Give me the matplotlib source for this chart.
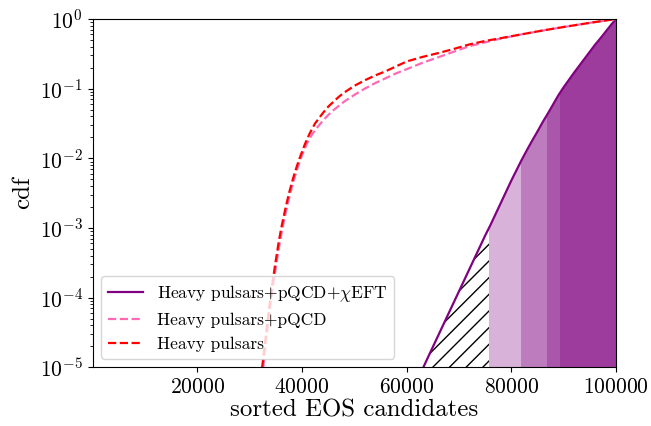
import matplotlib
matplotlib.use("Agg")
import matplotlib.pyplot as plt
from matplotlib.patches import Rectangle
import numpy as np

plt.rcParams['font.family'] = ['cmr10', 'DejaVu Serif']
plt.rcParams['mathtext.fontset'] = 'cm'
plt.rcParams['axes.formatter.use_mathtext'] = True

# Heavy pulsars + pQCD + chiEFT (purple): x, log10(cdf)
chi_x = [63200, 64000, 65000, 66000, 67000, 68000, 69000, 70000, 71000, 72000,
         73000, 74000, 75000, 76000, 77000, 78000, 79000, 80000, 81000, 82000,
         83000, 84000, 85000, 86000, 87000, 88000, 89000, 90000, 91000, 92000,
         93000, 94000, 95000, 96000, 97000, 98000, 99000, 100000]
chi_log = [-5.00, -4.87, -4.71, -4.55, -4.39, -4.23, -4.07, -3.91, -3.75, -3.59,
           -3.43, -3.27, -3.11, -2.96, -2.80, -2.64, -2.48, -2.32, -2.17, -2.02,
           -1.88, -1.745, -1.615, -1.48, -1.355, -1.225, -1.095, -0.98, -0.875,
           -0.77, -0.67, -0.57, -0.47, -0.37, -0.28, -0.185, -0.09, 0.0]

# Heavy pulsars + pQCD (pink)
pqcd_x = [32600, 33200, 33700, 34200, 34700, 35200, 35700, 36200, 36700, 37200,
          37700, 38200, 38700, 39200, 39700, 40200, 40700, 41200, 42000, 43000,
          44000, 45000, 46000, 47000, 48000, 49000, 50000, 52000, 54000, 56000,
          58000, 60000, 63000, 66000, 69000, 72000, 75000, 78000, 82000, 86000,
          90000, 95000, 100000]
pqcd_log = [-5.00, -4.60, -4.28, -3.99, -3.72, -3.47, -3.24, -3.03, -2.85, -2.68,
            -2.52, -2.38, -2.25, -2.13, -2.02, -1.92, -1.83, -1.75, -1.65, -1.55,
            -1.46, -1.38, -1.31, -1.25, -1.19, -1.14, -1.09, -1.00, -0.92, -0.85,
            -0.78, -0.72, -0.63, -0.55, -0.47, -0.39, -0.335, -0.28, -0.22,
            -0.165, -0.115, -0.055, 0.0]

# Heavy pulsars (red)
hp_x = [32400, 33000, 33500, 34000, 34500, 35000, 35500, 36000, 36500, 37000,
        37500, 38000, 38500, 39000, 39500, 40000, 40500, 41000, 41500, 42000,
        42500, 43000, 44000, 45000, 46000, 47000, 48000, 49000, 50000, 52000,
        54000, 56000, 58000, 60000, 63000, 66000, 69000, 72000, 75000, 78000,
        82000, 86000, 90000, 95000, 100000]
hp_log = [-5.00, -4.62, -4.30, -4.00, -3.72, -3.47, -3.23, -3.02, -2.84, -2.67,
          -2.51, -2.37, -2.24, -2.12, -2.01, -1.91, -1.81, -1.72, -1.64, -1.57,
          -1.50, -1.45, -1.35, -1.26, -1.19, -1.12, -1.06, -1.01, -0.96, -0.88,
          -0.81, -0.75, -0.68, -0.61, -0.545, -0.49, -0.43, -0.365, -0.315,
          -0.275, -0.22, -0.165, -0.115, -0.055, 0.0]

# shading thresholds (sorted EOS index)
hatch_start = 63200
shade_starts = [75800, 81800, 86850, 89300]
x_max = 100000
y_min = 1e-5

chi_cdf = 10.0 ** np.array(chi_log)
pqcd_cdf = 10.0 ** np.array(pqcd_log)
hp_cdf = 10.0 ** np.array(hp_log)

fig = plt.figure(figsize=(6.51, 4.26), dpi=100)
ax = fig.add_axes([0.1422, 0.1378, 0.8040, 0.8176])

# stacked shaded bands
for s in shade_starts:
    poly = ax.fill_between(chi_x, y_min, chi_cdf, color='purple', alpha=0.3,
                           linewidth=0)
    clip = Rectangle((s, 1e-7), x_max - s, 10, transform=ax.transData)
    poly.set_clip_path(clip)

# hatched region
hpoly = ax.fill_between(chi_x, y_min, chi_cdf, facecolor='none',
                        edgecolor='black', hatch='//', linewidth=0)
hclip = Rectangle((hatch_start - 1000, 1e-7), shade_starts[0] - hatch_start + 1000,
                  10, transform=ax.transData)
hpoly.set_clip_path(hclip)

ax.plot(chi_x, chi_cdf, color='purple', lw=1.6,
        label=r'Heavy pulsars+pQCD+$\chi$EFT')
ax.plot(pqcd_x, pqcd_cdf, color='hotpink', lw=1.6, ls='--',
        label='Heavy pulsars+pQCD')
ax.plot(hp_x, hp_cdf, color='red', lw=1.6, ls='--', label='Heavy pulsars')

ax.set_yscale('log')
ax.set_xlim(0, x_max)
ax.set_ylim(y_min, 1)
ax.set_xticks([20000, 40000, 60000, 80000, 100000])
ax.tick_params(axis='both', labelsize=15.5)
ax.set_xlabel('sorted EOS candidates', fontsize=17.9, labelpad=2)
ax.set_ylabel('cdf', fontsize=17.9)

ax.legend(loc='lower left', fontsize=12.5, framealpha=0.8)

fig.savefig('out.png', dpi=100)
